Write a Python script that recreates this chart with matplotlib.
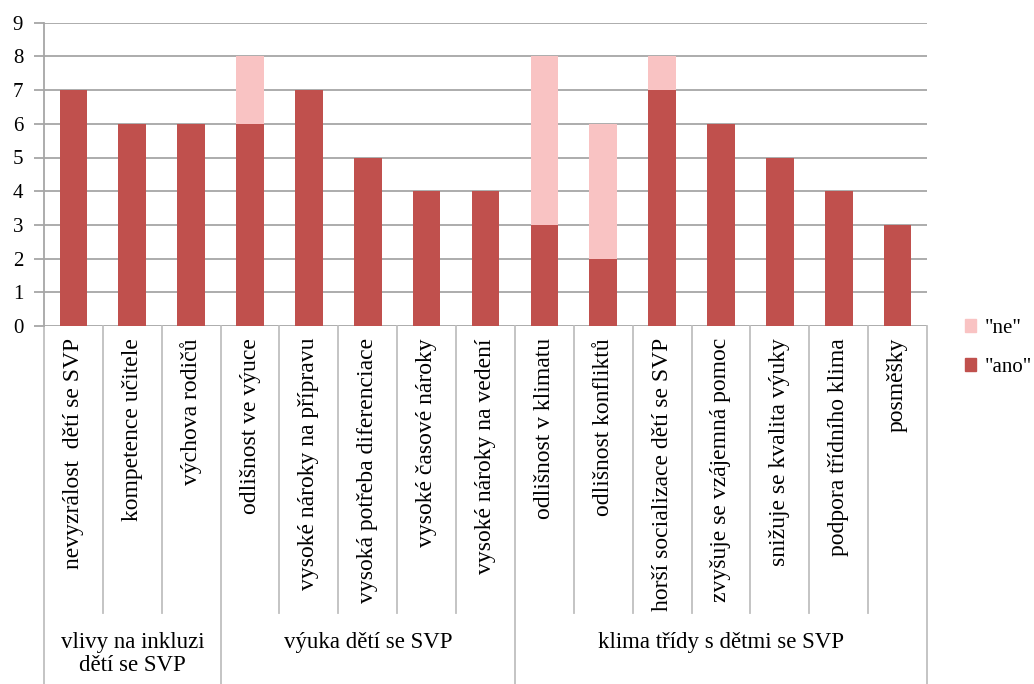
import matplotlib
matplotlib.use("Agg")
import matplotlib.pyplot as plt
from matplotlib.lines import Line2D
from matplotlib.patches import Patch
from matplotlib.transforms import blended_transform_factory
import numpy as np

plt.rcParams['font.family'] = ['Liberation Serif', 'DejaVu Serif']

kategorie = [
    "nevyzrálost  dětí se SVP", "kompetence učitele", "výchova rodičů",
    "odlišnost ve výuce", "vysoké nároky na přípravu", "vysoká potřeba diferenciace",
    "vysoké časové nároky", "vysoké nároky na vedení",
    "odlišnost v klimatu", "odlišnost konfliktů", "horší socializace dětí se SVP",
    "zvyšuje se vzájemná pomoc", "snižuje se kvalita výuky", "podpora třídního klima",
    "posměšky",
]
ano = [7, 6, 6, 6, 7, 5, 4, 4, 3, 2, 7, 6, 5, 4, 3]
ne = [0, 0, 0, 2, 0, 0, 0, 0, 5, 4, 1, 0, 0, 0, 0]

skupiny = ["vlivy na inkluzi\ndětí se SVP", "výuka dětí se SVP", "klima třídy s dětmi se SVP"]
hranice = [0, 3, 8, 15]  # indexy, kde skupiny zacinaji/konci

W, H = 1034, 684
fig = plt.figure(figsize=(W / 100, H / 100), dpi=100)
ax = fig.add_axes([44 / W, 1 - 326 / H, (927 - 44) / W, (326 - 22.7) / H])

x = np.arange(len(kategorie))
cervena = "#C0504D"
ruzova = "#F9C3C3"
ax.bar(x, ano, width=0.47, color=cervena, zorder=3)
ax.bar(x, ne, width=0.47, bottom=ano, color=ruzova, zorder=3)

ax.set_xlim(-0.5, len(kategorie) - 0.5)
ax.set_ylim(0, 9)
ax.set_yticks(range(10))
ax.tick_params(axis='y', labelsize=15, length=7, color='#A6A6A6', width=1.3, pad=8)
ax.set_xticks([])
ax.yaxis.grid(True, color='#A6A6A6', lw=1.3, zorder=0)
for s in ['top', 'right', 'bottom']:
    ax.spines[s].set_visible(False)
ax.spines['left'].set_color('#A6A6A6')
ax.spines['left'].set_linewidth(1.3)

# popisky kategorii a oddelovace pod osou
tr = blended_transform_factory(ax.transData, fig.transFigure)
y_osa = 1 - 326 / H
y_kat = 1 - 613 / H
for i, k in enumerate(kategorie):
    ax.text(i, 1 - 338 / H, k, transform=tr, rotation=90, ha='center', va='top',
            fontsize=17, clip_on=False)
for i in range(len(kategorie) + 1):
    dolni = 0 if i in hranice else y_kat
    ax.add_line(Line2D([i - 0.5, i - 0.5], [y_osa, dolni], transform=tr,
                       color='#BFBFBF', lw=1.3, clip_on=False))

for j, nazev in enumerate(skupiny):
    stred = (hranice[j] + hranice[j + 1] - 1) / 2
    ax.text(stred, 1 - 632 / H, nazev, transform=tr, ha='center', va='top',
            fontsize=16.5, linespacing=1.12, clip_on=False)

handles = [Patch(color=ruzova, label='"ne"'), Patch(color=cervena, label='"ano"')]
fig.legend(handles=handles, loc='center left', bbox_to_anchor=(965 / W, 1 - 348 / H),
           frameon=False, fontsize=15, handlelength=0.55, handleheight=0.55,
           handletextpad=0.4, labelspacing=0.95, borderaxespad=0, borderpad=0)

fig.savefig("out.png", dpi=100)
